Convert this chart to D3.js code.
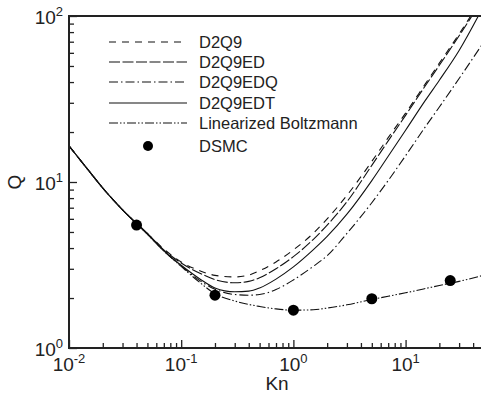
<!DOCTYPE html>
<html>
<head>
<meta charset="utf-8">
<script src="https://cdn.jsdelivr.net/npm/d3@7"></script>
<style>
body { margin: 0; background: #fff; }
text { font-family: "Liberation Sans", Arial, Helvetica, sans-serif; fill: #222; }
</style>
</head>
<body>
<svg id="chart" width="481" height="397"></svg>
<script>
// values (Kn on a common grid, Q for each model)
var knGrid = [0.01, 0.015, 0.02, 0.03, 0.05, 0.07, 0.1, 0.15, 0.2, 0.3, 0.4, 0.5,
              0.7, 1, 1.5, 2, 3, 5, 7, 10, 15, 20, 30, 50];
var qD2Q9 = [16.5, 11.7, 9.2, 6.8, 4.9, 3.95, 3.3, 2.9, 2.74, 2.68, 2.75, 2.92,
             3.3, 3.9, 4.9, 6.0, 8.3, 13.3, 18.5, 26, 39, 52, 78, 134];
var qD2Q9ED = [16.5, 11.7, 9.2, 6.8, 4.9, 3.9, 3.25, 2.8, 2.58, 2.47, 2.52, 2.65,
               3.0, 3.55, 4.5, 5.5, 7.6, 12.6, 17.7, 25.2, 38, 50.5, 76, 130];
var qD2Q9EDQ = [16.5, 11.7, 9.2, 6.8, 4.85, 3.85, 3.12, 2.52, 2.26, 2.1, 2.08, 2.1,
                2.25, 2.57, 3.1, 3.6, 4.9, 7.5, 10.2, 14.4, 21.5, 28.3, 42, 70];
var qD2Q9EDT = [16.5, 11.7, 9.2, 6.8, 4.85, 3.85, 3.15, 2.58, 2.3, 2.18, 2.2, 2.3,
                2.6, 3.08, 3.9, 4.7, 6.4, 10.2, 14.3, 20.5, 31, 41, 62, 116];
var qLinBoltz = [16.5, 11.7, 9.2, 6.8, 4.85, 3.85, 3.1, 2.45, 2.12, 1.92, 1.83, 1.78,
                 1.72, 1.69, 1.70, 1.74, 1.82, 1.96, 2.05, 2.15, 2.28, 2.38, 2.52, 2.75];
var knDSMC = [0.04, 0.2, 1, 5, 25];
var qDSMC = [5.5, 2.08, 1.69, 1.98, 2.55];

var seriesNames = ["D2Q9", "D2Q9ED", "D2Q9EDQ", "D2Q9EDT", "Linearized Boltzmann"];
var seriesQ = [qD2Q9, qD2Q9ED, qD2Q9EDQ, qD2Q9EDT, qLinBoltz];
var dashes = ["7,6", "11,2.5", "9,3,1.5,3", null, "9,2,1.5,2,1.5,2"];

var xMajor = [0.01, 0.1, 1, 10];
var xExp = ["-2", "-1", "0", "1"];
var yMajor = [1, 10, 100];
var yExp = ["0", "1", "2"];

var L = 69, T = 16, B = 348, R = 484;
var svg = d3.select("#chart");
var x = d3.scaleLog().domain([0.01, 50]).range([L, R]);
var y = d3.scaleLog().domain([1, 100]).range([B, T]);

function minors(lo, hi) {
    var out = [];
    for (var e = lo; e < hi; e++) {
        for (var m = 2; m <= 9; m++) out.push(m * Math.pow(10, e));
    }
    return out;
}
var xMinor = minors(-2, 2).filter(function(v) { return v <= 50; });
var yMinor = minors(0, 2);

svg.append("clipPath").attr("id", "plotclip")
    .append("rect").attr("x", L).attr("y", T).attr("width", R - L).attr("height", B - T);

// ticks (inward)
function tickAxis(axis, tr, vals, size) {
    var g = svg.append("g").attr("transform", tr)
        .call(axis.tickValues(vals).tickSize(size).tickFormat(""));
    g.select(".domain").remove();
    g.selectAll("line").attr("stroke", "#222").attr("stroke-width", 1.3);
}
tickAxis(d3.axisBottom(x), "translate(0," + B + ")", xMajor, -8);
tickAxis(d3.axisBottom(x), "translate(0," + B + ")", xMinor, -5);
tickAxis(d3.axisLeft(y), "translate(" + L + ",0)", yMajor, -8);
tickAxis(d3.axisLeft(y), "translate(" + L + ",0)", yMinor, -5);

// curves
var line = d3.line()
    .x(function(d) { return x(d[0]); })
    .y(function(d) { return y(d[1]); })
    .curve(d3.curveMonotoneX);
var plot = svg.append("g").attr("clip-path", "url(#plotclip)");
seriesQ.forEach(function(q, i) {
    plot.append("path")
        .datum(knGrid.map(function(k, j) { return [k, q[j]]; }))
        .attr("d", line)
        .attr("fill", "none")
        .attr("stroke", "#111")
        .attr("stroke-width", 1.1)
        .attr("stroke-dasharray", dashes[i]);
});
plot.selectAll("circle.dsmc").data(knDSMC).enter().append("circle")
    .attr("class", "dsmc")
    .attr("cx", function(d) { return x(d); })
    .attr("cy", function(d, i) { return y(qDSMC[i]); })
    .attr("r", 5.5)
    .attr("fill", "#000");

// frame
svg.append("rect").attr("x", L).attr("y", T).attr("width", R - L).attr("height", B - T)
    .attr("fill", "none").attr("stroke", "#222").attr("stroke-width", 2);

// tick labels with superscripts
function powLabel(sel, exp) {
    sel.append("tspan").text("10");
    sel.append("tspan").text(exp).attr("font-size", 13).attr("dy", -8);
}
xMajor.forEach(function(v, i) {
    var t = svg.append("text").attr("x", x(v)).attr("y", 371)
        .attr("text-anchor", "middle").attr("font-size", 19);
    powLabel(t, xExp[i]);
});
yMajor.forEach(function(v, i) {
    var t = svg.append("text").attr("x", 63).attr("y", y(v) + 7.5)
        .attr("text-anchor", "end").attr("font-size", 19);
    powLabel(t, yExp[i]);
});

// axis titles
svg.append("text").attr("x", 277).attr("y", 390).attr("text-anchor", "middle")
    .attr("font-size", 19).text("Kn");
svg.append("text").attr("transform", "translate(21,182) rotate(-90)")
    .attr("text-anchor", "middle").attr("font-size", 19).text("Q");

// legend
var legY = [42, 62, 82, 103, 123];
seriesNames.forEach(function(name, i) {
    svg.append("line").attr("x1", 109).attr("x2", 187)
        .attr("y1", legY[i]).attr("y2", legY[i])
        .attr("stroke", "#111").attr("stroke-width", 1.1)
        .attr("stroke-dasharray", dashes[i]);
    svg.append("text").attr("x", 199).attr("y", legY[i] + 6)
        .attr("font-size", 16.5).text(name);
});
svg.append("circle").attr("cx", 148).attr("cy", 146).attr("r", 5).attr("fill", "#000");
svg.append("text").attr("x", 199).attr("y", 152).attr("font-size", 16.5).text("DSMC");
</script>
</body>
</html>
